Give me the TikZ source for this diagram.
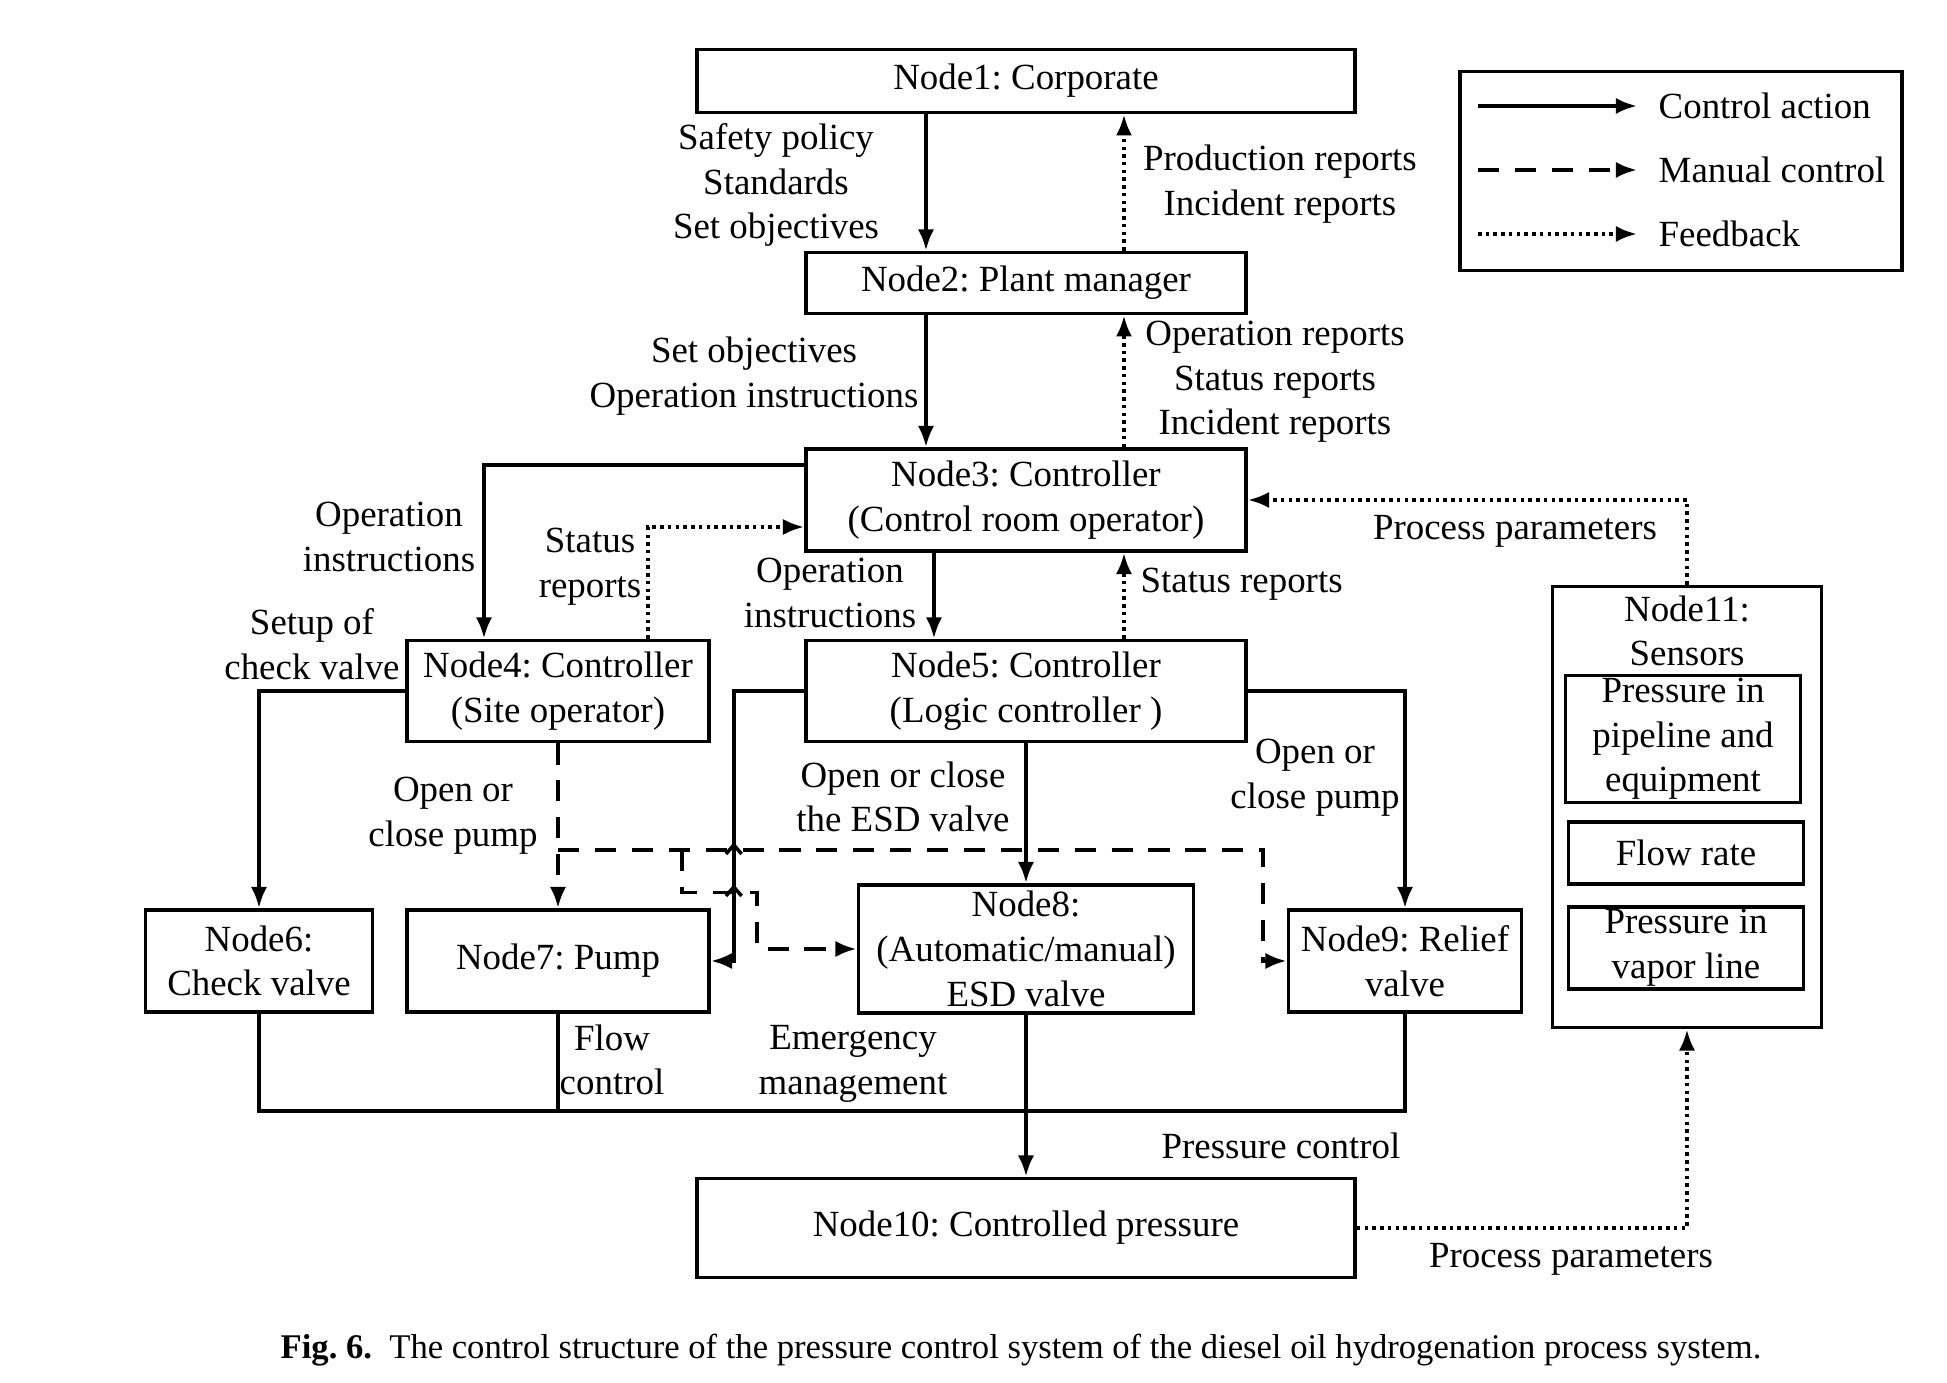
\documentclass[tikz,border=0pt]{standalone}
\usepackage{fontspec}
\setmainfont{Liberation Serif}
\usetikzlibrary{arrows.meta}
\frenchspacing

\begin{document}
\begin{tikzpicture}[font=\fontsize{10.5}{12.7}\selectfont,
  >={Latex[length=6pt,width=4.6pt]},
  box/.style={draw,rectangle,line width=1.1pt,align=center,inner sep=0pt},
  ctrl/.style={line width=1.1pt,->},
  manual/.style={line width=1.1pt,->,dash pattern=on 6pt off 4.5pt},
  fb/.style={line width=1.1pt,->,dash pattern=on 1pt off 1.2pt},
  lbl/.style={align=center,inner sep=0pt}]
\useasboundingbox (0,0) rectangle (19.47,13.83);

% boxes
\node (n1) [box,minimum width=6.58cm,minimum height=0.63cm] at (10.26,13.02) {Node1: Corporate};
\node (n2) [box,minimum width=4.40cm,minimum height=0.61cm] at (10.26,11.00) {Node2: Plant manager};
\node (n3) [box,minimum width=4.40cm,minimum height=1.02cm] at (10.26,8.83) {Node3: Controller\\(Control room operator)};
\node (n4) [box,minimum width=3.02cm,minimum height=1.01cm] at (5.58,6.92) {Node4: Controller\\(Site operator)};
\node (n5) [box,minimum width=4.40cm,minimum height=1.01cm] at (10.26,6.92) {Node5: Controller\\(Logic controller )};
\node (n6) [box,minimum width=2.27cm,minimum height=1.02cm] at (2.59,4.22) {Node6:\\Check valve};
\node (n7) [box,minimum width=3.02cm,minimum height=1.02cm] at (5.58,4.22) {Node7: Pump};
\node (n8) [box,minimum width=3.35cm,minimum height=1.28cm] at (10.26,4.34) {Node8:\\(Automatic/manual)\\ESD valve};
\node (n9) [box,minimum width=2.33cm,minimum height=1.02cm] at (14.05,4.22) {Node9: Relief\\valve};
\node (n10) [box,minimum width=6.58cm,minimum height=0.99cm] at (10.26,1.55) {Node10: Controlled pressure};
\node (n11) [box,minimum width=2.69cm,minimum height=4.41cm] at (16.87,5.76) {};
\node (t11) [lbl] at (16.87,7.52) {Node11:\\Sensors};
\node (s1) [box,minimum width=2.35cm,minimum height=1.27cm] at (16.83,6.44) {Pressure in\\pipeline and\\equipment};
\node (s2) [box,minimum width=2.35cm,minimum height=0.62cm] at (16.86,5.30) {Flow rate};
\node (s3) [box,minimum width=2.35cm,minimum height=0.82cm] at (16.86,4.35) {Pressure in\\vapor line};

% legend
\node (lg) [box,minimum width=4.42cm,minimum height=1.99cm] at (16.81,12.12) {};
\node (lg1) [lbl,anchor=west] at (16.58,12.77) {Control action};
\node (lg2) [lbl,anchor=west] at (16.58,12.13) {Manual control};
\node (lg3) [lbl,anchor=west] at (16.58,11.49) {Feedback};
\draw [ctrl] ([xshift=-1.8cm]lg1.west) -- ([xshift=-0.21cm]lg1.west);
\draw [manual] ([xshift=-1.8cm]lg2.west) -- ([xshift=-0.21cm]lg2.west);
\draw [fb] ([xshift=-1.8cm]lg3.west) -- ([xshift=-0.21cm]lg3.west);

% top levels
\draw [ctrl] ([xshift=-1cm]n1.south) -- ([xshift=-1cm]n2.north);
\draw [fb] ([xshift=0.98cm]n2.north) -- ([xshift=0.98cm]n1.south);
\draw [ctrl] ([xshift=-1cm]n2.south) -- ([xshift=-1cm]n3.north);
\draw [fb] ([xshift=0.98cm]n3.north) -- ([xshift=0.98cm]n2.south);
\node [lbl] at (7.76,11.98) {Safety policy\\Standards\\Set objectives};
\node [lbl] at (12.80,11.99) {Production reports\\Incident reports};
\node [lbl] at (7.54,10.07) {Set objectives\\Operation instructions};
\node [lbl] at (12.75,10.01) {Operation reports\\Status reports\\Incident reports};

% controllers
\draw [ctrl] ([yshift=0.35cm]n3.west) -| ([xshift=-0.74cm]n4.north);
\draw [fb] ([xshift=0.9cm]n4.north) |- ([yshift=-0.27cm]n3.west);
\draw [ctrl] ([xshift=-0.92cm]n3.south) -- ([xshift=-0.92cm]n5.north);
\draw [fb] ([xshift=0.98cm]n5.north) -- ([xshift=0.98cm]n3.south);
\draw [fb] (n11.north) |- (n3.east);
\node [lbl] at (3.89,8.46) {Operation\\instructions};
\node [lbl] at (5.90,8.16) {Status\\reports};
\node [lbl] at (8.30,7.90) {Operation\\instructions};
\node [lbl,anchor=west] at (11.40,7.99) {Status reports};
\node [lbl] at (15.15,8.52) {Process parameters};

% actuators
\draw [ctrl] (n4.west) -| (n6.north);
\draw [manual] (n4.south) -- (n7.north);
\coordinate (m1) at (5.58,5.33);
\coordinate (m2) at (12.63,5.33);
\coordinate (m3) at (6.82,5.33);
\draw [manual] (m1) -- (m2) |- (n9.west);
\draw [manual] (m3) -- (6.82,4.905) -- (7.574,4.905) |- (n8.west);
\coordinate (j1) at (7.338,6.92);
\draw [ctrl] (n5.west) -- (j1) |- (n7.east);
\draw [line width=1pt] (7.26,5.29) -- (7.338,5.38) -- (7.416,5.29);
\draw [line width=1pt] (7.26,4.87) -- (7.338,4.96) -- (7.416,4.87);
\draw [ctrl] (n5.south) -- (n8.north);
\draw [ctrl] (n5.east) -| (n9.north);
\node [lbl] at (3.12,7.39) {Setup of\\check valve};
\node [lbl] at (4.53,5.67) {Open or\\close pump};
\node [lbl] at (9.03,5.86) {Open or close\\the ESD valve};
\node [lbl] at (13.15,6.05) {Open or\\close pump};

% process
\coordinate (b1) at (2.59,2.72);
\draw [line width=1.1pt] (n6.south) -- (b1) -| (n9.south);
\draw [line width=1.1pt] (n7.south) -- (n7.south |- b1);
\draw [ctrl] (n8.south) -- (n10.north);
\draw [fb] (n10.east) -| (n11.south);
\node [lbl] at (6.12,3.23) {Flow\\control};
\node [lbl] at (8.53,3.19) {Emergency\\management};
\node [lbl] at (12.81,2.37) {Pressure control};
\node [lbl] at (15.71,1.24) {Process parameters};

\node (cap) [lbl,font=\fontsize{9.85}{11.5}\selectfont] at (10.21,0.33) {\textbf{Fig. 6.}\ \ The control structure of the pressure control system of the diesel oil hydrogenation process system.};
\end{tikzpicture}
\end{document}
